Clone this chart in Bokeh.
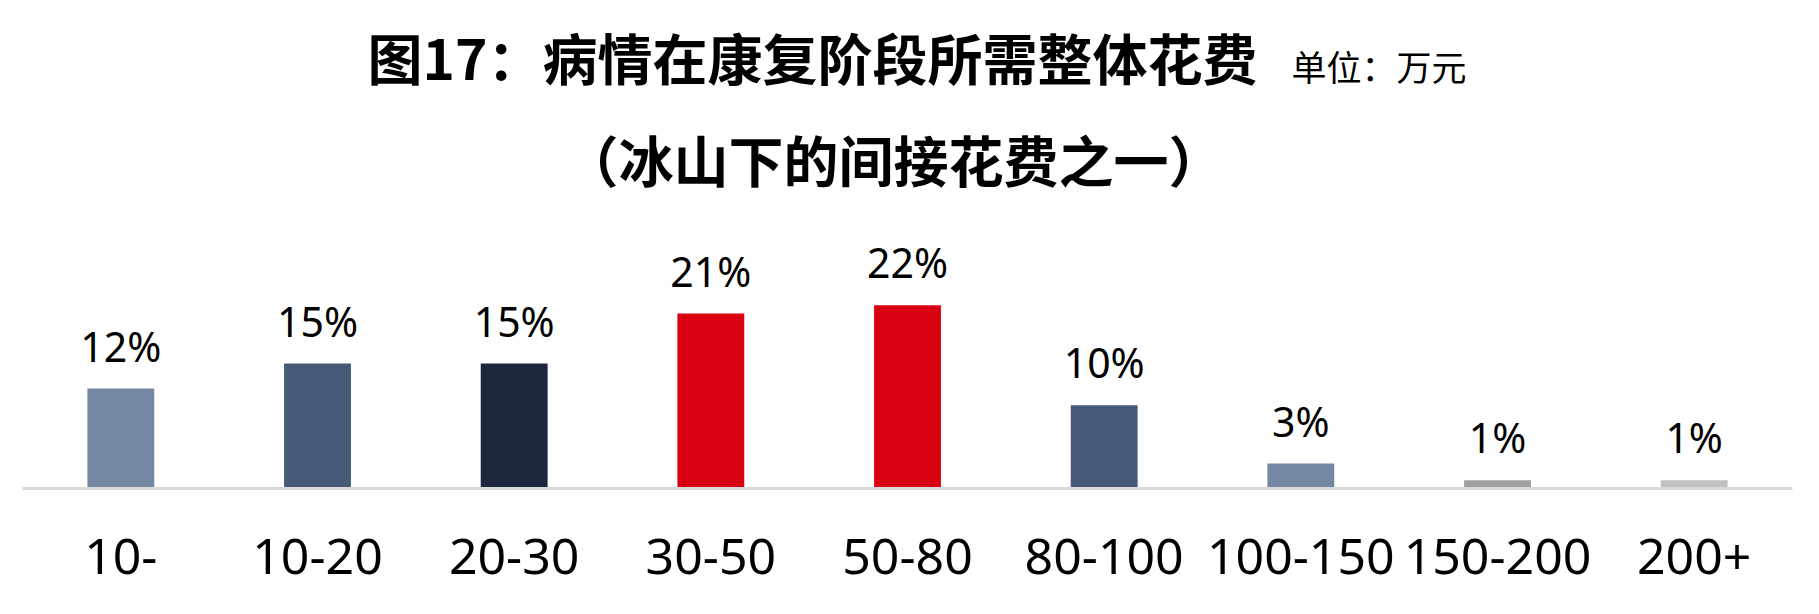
from bokeh.plotting import figure
from bokeh.models import Label, ColumnDataSource, FactorRange, Range1d
from bokeh.embed import file_html
from bokeh.resources import INLINE
from bokeh.core.properties import value

# ---- data ----
categories = ["10-", "10-20", "20-30", "30-50", "50-80", "80-100", "100-150", "150-200", "200+"]
shares = [12, 15, 15, 21, 22, 10, 3, 1, 1]
bar_colors = ["#7488A3", "#465A77", "#1C263D", "#D90012", "#D90012",
              "#465A77", "#7488A3", "#A0A0A0", "#C0C0C0"]
title_line1 = "图17：病情在康复阶段所需整体花费"
title_line2 = "（冰山下的间接花费之一）"
unit_note = "单位：万元"

labels = [f"{v}%" for v in shares]
source = ColumnDataSource(dict(cat=categories, val=shares, lab=labels, col=bar_colors))

p = figure(width=1803, height=598,
           x_range=FactorRange(*categories, range_padding=0),
           y_range=Range1d(0, 58.6),
           output_backend="svg", toolbar_location=None,
           min_border_left=22, min_border_right=11,
           min_border_top=0, min_border_bottom=110)
p.outline_line_color = None
p.background_fill_color = "white"
p.border_fill_color = "white"
p.xgrid.visible = False
p.ygrid.visible = False
p.yaxis.visible = False

ax = p.xaxis[0]
ax.axis_line_color = "#D9D9D9"
ax.axis_line_width = 3
ax.major_tick_line_color = None
ax.major_tick_out = 0
ax.major_tick_in = 0
ax.major_label_text_font = "Noto Sans"
ax.major_label_text_font_size = "50px"
ax.major_label_text_color = "black"
ax.major_label_standoff = 50

p.vbar(x="cat", top="val", width=0.34, bottom=0, color="col", line_color=None, source=source)
p.text(x="cat", y="val", text="lab", source=source, text_align="center",
       text_baseline="alphabetic", y_offset=-43, text_color="black",
       text_font=value("Noto Sans"), text_font_size="41px")

p.add_layout(Label(x=790, y=433, x_units="screen", y_units="screen", text=title_line1,
                   text_align="center", text_baseline="middle",
                   text_font="Noto Sans CJK SC", text_font_style="bold",
                   text_font_size="55px", text_color="black"))
p.add_layout(Label(x=871, y=331, x_units="screen", y_units="screen", text=title_line2,
                   text_align="center", text_baseline="middle",
                   text_font="Noto Sans CJK SC", text_font_style="bold",
                   text_font_size="55px", text_color="black"))
p.add_layout(Label(x=1269, y=423, x_units="screen", y_units="screen", text=unit_note,
                   text_align="left", text_baseline="middle",
                   text_font="Noto Sans CJK SC",
                   text_font_size="35px", text_color="black"))

open("out.html", "w").write(file_html(p, INLINE))
